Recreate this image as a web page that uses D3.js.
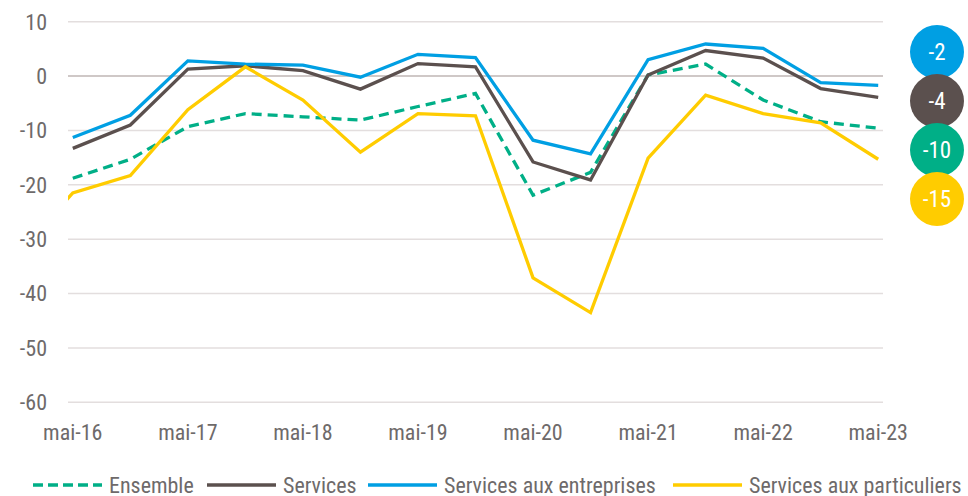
<!DOCTYPE html>
<html>
<head>
<meta charset="utf-8">
<script src="https://cdn.jsdelivr.net/npm/d3@7"></script>
<style>
  body { margin: 0; background: #fff; }
  svg text { font-family: "Liberation Sans Narrow", "Arial Narrow", "Roboto Condensed", sans-serif; }
</style>
</head>
<body>
<svg id="chart" width="968" height="496"></svg>
<script>
// semi-annual survey points (nov-15 only exists for particuliers)
var periods = ["nov-15", "mai-16", "nov-16", "mai-17", "nov-17", "mai-18", "nov-18", "mai-19", "nov-19",
               "mai-20", "nov-20", "mai-21", "nov-21", "mai-22", "nov-22", "mai-23"];

var ensemble     = [null, -18.8, -15.3, -9.3, -6.9, -7.5, -8.1, -5.6, -3.2, -21.9, -17.7, 0.2, 2.2, -4.4, -8.4, -9.6];
var services     = [null, -13.3, -9.0, 1.3, 1.9, 1.0, -2.4, 2.3, 1.7, -15.8, -19.1, 0.2, 4.7, 3.3, -2.3, -3.9];
var entreprises  = [null, -11.3, -7.2, 2.8, 2.2, 2.0, -0.2, 4.0, 3.4, -11.8, -14.3, 3.0, 5.9, 5.1, -1.2, -1.7];
var particuliers = [-33.3, -21.5, -18.3, -6.2, 1.7, -4.4, -14.0, -6.9, -7.3, -37.1, -43.5, -15.1, -3.5, -6.9, -8.6, -15.3];

var seriesNames = ["Ensemble", "Services", "Services aux entreprises", "Services aux particuliers"];
var seriesColors = ["#00af87", "#5b504e", "#009fe3", "#ffcc00"];
var yTicks = [10, 0, -10, -20, -30, -40, -50, -60];

var series = [ensemble, services, entreprises, particuliers].map(function(vals, i) {
  return { name: seriesNames[i], color: seriesColors[i], dashed: i === 0,
           values: vals.map(function(v, j) { return { idx: j, v: v }; }) };
});

var svg = d3.select("#chart");
var plotLeft = 68, plotRight = 883, plotTop = 21.7, plotBottom = 402.3;

// one category = one month; labels every 12 months, points every 6
var x = d3.scaleLinear().domain([5.5, 90.5]).range([plotLeft, plotRight]);
var y = d3.scaleLinear().domain([-60, 10]).range([plotBottom, plotTop]);
var xm = function(i) { return x(i * 6); };

// gridlines
svg.append("g").selectAll("line")
  .data(yTicks)
  .enter().append("line")
  .attr("x1", plotLeft).attr("x2", plotRight)
  .attr("y1", d => y(d)).attr("y2", d => y(d))
  .attr("stroke", d => d === 0 ? "#bfb6b4" : "#e3dede")
  .attr("stroke-width", 1.6);

// y axis labels
svg.append("g").selectAll("text")
  .data(yTicks)
  .enter().append("text")
  .attr("x", 47)
  .attr("y", d => y(d))
  .attr("dy", "0.36em")
  .attr("text-anchor", "end")
  .attr("fill", "#6e6a6a")
  .style("font-size", "22px")
  .text(d => d);

// x axis labels (the "mai" periods)
var maiIdx = periods.map((p, i) => i).filter(i => periods[i].indexOf("mai") === 0);
svg.append("g").selectAll("text")
  .data(maiIdx)
  .enter().append("text")
  .attr("x", d => xm(d))
  .attr("y", 440)
  .attr("text-anchor", "middle")
  .attr("fill", "#6e6a6a")
  .style("font-size", "22px")
  .text(d => periods[d]);

svg.append("clipPath").attr("id", "plot")
  .append("rect").attr("x", plotLeft).attr("y", 0).attr("width", plotRight - plotLeft).attr("height", 496);

var line = d3.line()
  .defined(d => d.v !== null)
  .x(d => xm(d.idx))
  .y(d => y(d.v));

svg.append("g").attr("clip-path", "url(#plot)")
  .selectAll("path")
  .data(series)
  .enter().append("path")
  .attr("d", d => line(d.values))
  .attr("fill", "none")
  .attr("stroke", d => d.color)
  .attr("stroke-width", 3.3)
  .attr("stroke-linejoin", "miter")
  .attr("stroke-dasharray", d => d.dashed ? "10,6" : null);

// end-value bubbles, stacked so they don't hide each other
var r = 27, gap = 49;
var bubbles = series.map(function(s) {
  var last = s.values[s.values.length - 1].v;
  return { color: s.color, label: Math.round(last), y: y(last) };
}).sort((a, b) => a.y - b.y);
var meanY = d3.mean(bubbles, d => d.y) + 8;
bubbles.forEach(function(b, i) { b.cy = meanY + (i - (bubbles.length - 1) / 2) * gap; });

var bg = svg.append("g").selectAll("g")
  .data(bubbles)
  .enter().append("g");
bg.append("circle")
  .attr("cx", 937).attr("cy", d => d.cy).attr("r", r)
  .attr("fill", d => d.color);
bg.append("text")
  .attr("x", 937).attr("y", d => d.cy)
  .attr("dy", "0.36em")
  .attr("text-anchor", "middle")
  .attr("fill", "#fff")
  .style("font-size", "23px")
  .text(d => d.label);

// legend
var legendX = [33, 207, 368, 673];
var lg = svg.append("g").selectAll("g")
  .data(series)
  .enter().append("g")
  .attr("transform", (d, i) => "translate(" + legendX[i] + ",485)");
lg.append("line")
  .attr("x1", 0).attr("x2", 69)
  .attr("stroke", d => d.color)
  .attr("stroke-width", 3.5)
  .attr("stroke-dasharray", d => d.dashed ? "10,5" : null);
lg.append("text")
  .attr("x", 76).attr("y", 7.5)
  .attr("fill", "#6e6a6a")
  .style("font-size", "22px")
  .text(d => d.name);
</script>
</body>
</html>
